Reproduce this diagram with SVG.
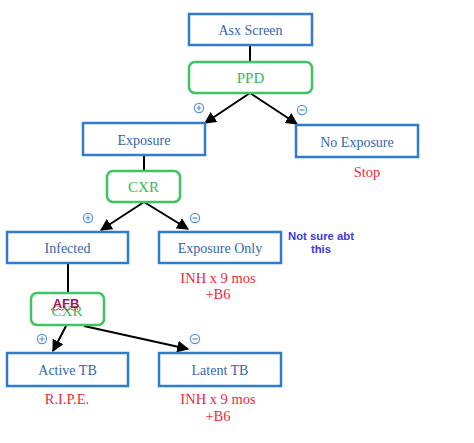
<svg xmlns="http://www.w3.org/2000/svg" xmlns:xlink="http://www.w3.org/1999/xlink" width="474" height="443" viewBox="0 0 474 443">
<style>
.box{fill:#fff;stroke:#2f7ccc;stroke-width:2.5}
.gbox{fill:#fff;stroke:#3ec463;stroke-width:2.5}
.t{font-family:"Liberation Serif","Times New Roman",serif;font-size:14px;fill:#3565b0;text-anchor:middle}
.gt{font-family:"Liberation Serif","Times New Roman",serif;font-size:15px;fill:#3bb85c;text-anchor:middle}
.r{font-family:"Liberation Serif","Times New Roman",serif;font-size:14.5px;fill:#ee2a3c;text-anchor:middle}
.n{font-family:"Liberation Sans",Arial,sans-serif;font-size:11.3px;font-weight:bold;fill:#3a3ae0;text-anchor:middle}
.c{fill:none;stroke:#000;stroke-width:2}
.sg{fill:#fff;stroke:#5b92dc;stroke-width:1.2}
</style>
<defs>
<marker id="ah" viewBox="0 0 10 10" refX="9" refY="5" markerWidth="6" markerHeight="6" orient="auto" markerUnits="strokeWidth">
<path d="M0,0 L10,5 L0,10 z" fill="#000"/>
</marker>
<g id="plus"><circle r="4.6" class="sg"/><path d="M-2.5,0H2.5M0,-2.5V2.5" stroke="#5b92dc" stroke-width="1.2"/></g>
<g id="minus"><circle r="4.6" class="sg"/><path d="M-2.5,0H2.5" stroke="#5b92dc" stroke-width="1.3"/></g>
</defs>
<rect width="474" height="443" fill="#fff"/>
<g id="connectors">
<line class="c" x1="250" y1="45" x2="250" y2="62"/>
<line class="c" x1="250" y1="93" x2="205" y2="123" marker-end="url(#ah)"/>
<line class="c" x1="250" y1="93" x2="297" y2="124" marker-end="url(#ah)"/>
<line class="c" x1="144" y1="156" x2="144" y2="171"/>
<line class="c" x1="144" y1="202" x2="101" y2="230" marker-end="url(#ah)"/>
<line class="c" x1="144" y1="202" x2="188" y2="229" marker-end="url(#ah)"/>
<line class="c" x1="68" y1="263" x2="68" y2="293"/>
<line class="c" x1="66" y1="326" x2="53" y2="351" marker-end="url(#ah)"/>
<line class="c" x1="84" y1="326" x2="188" y2="349" marker-end="url(#ah)"/>
<use xlink:href="#plus" x="199" y="108"/>
<use xlink:href="#minus" x="302" y="110"/>
<use xlink:href="#plus" x="88" y="218"/>
<use xlink:href="#minus" x="195" y="218"/>
<use xlink:href="#plus" x="42" y="339"/>
<use xlink:href="#minus" x="195" y="339"/>
</g>
<g id="asx"><rect class="box" x="189" y="14" width="123" height="31"/><text class="t" x="250.5" y="35">Asx Screen</text></g>
<g id="ppd"><rect class="gbox" x="189" y="62" width="123" height="31" rx="6"/><text class="gt" x="250.5" y="83">PPD</text></g>
<g id="exposure"><rect class="box" x="83" y="123" width="122" height="32"/><text class="t" x="144" y="145">Exposure</text></g>
<g id="noexposure"><rect class="box" x="296" y="125" width="122" height="32"/><text class="t" x="357" y="147">No Exposure</text><text class="r" x="367" y="177">Stop</text></g>
<g id="cxr"><rect class="gbox" x="107" y="171" width="73" height="31" rx="6"/><text class="gt" x="143.5" y="192">CXR</text></g>
<g id="infected"><rect class="box" x="7" y="232" width="121" height="31"/><text class="t" x="67.5" y="253">Infected</text></g>
<g id="exposureonly"><rect class="box" x="159" y="232" width="122" height="31"/><text class="t" x="220" y="253">Exposure Only</text><text class="r" x="218" y="283">INH x 9 mos</text><text class="r" x="218" y="299">+B6</text></g>
<g id="note"><text class="n" x="321" y="240">Not sure abt</text><text class="n" x="321" y="252.5">this</text></g>
<g id="afb"><rect class="gbox" x="31" y="293" width="73" height="32" rx="6"/><text class="gt" x="67" y="316">CXR</text><text x="66" y="308" font-family="'Liberation Sans',Arial,sans-serif" font-size="13" font-weight="bold" fill="#a0145a" text-anchor="middle">AFB</text><path d="M51,309.5 q1.5,-1.5 3,0 t3,0 t3,0 t3,0 t3,0 t3,0 t3,0 t3,0 t3,0" fill="none" stroke="#e0283a" stroke-width="1"/></g>
<g id="activetb"><rect class="box" x="7" y="353" width="121" height="33"/><text class="t" x="67.5" y="375">Active TB</text><text class="r" x="67" y="404">R.I.P.E.</text></g>
<g id="latenttb"><rect class="box" x="159" y="353" width="122" height="33"/><text class="t" x="220" y="375">Latent TB</text><text class="r" x="218" y="404">INH x 9 mos</text><text class="r" x="218" y="421">+B6</text></g>
</svg>
